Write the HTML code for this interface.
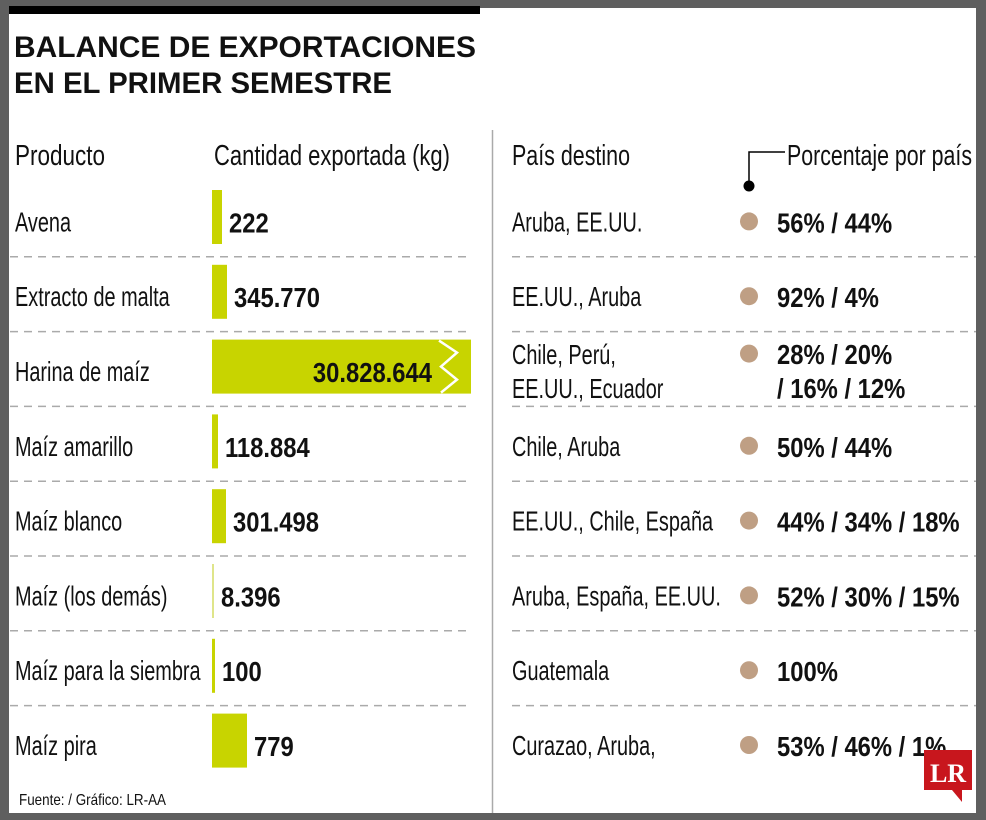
<!DOCTYPE html>
<html><head><meta charset="utf-8">
<style>
html,body{margin:0;padding:0;background:#5f5f5f;}
svg{display:block;}
text{font-family:"Liberation Sans Narrow","Liberation Sans",sans-serif;fill:#111;}
.b{font-weight:bold;}
</style></head>
<body>
<svg id="chart" width="986" height="820" viewBox="0 0 986 820">
  <rect x="0" y="0" width="986" height="820" fill="#5f5f5f"/>
  <rect x="9" y="8" width="967" height="805" fill="#ffffff"/>
  <rect x="9" y="6" width="471" height="8" fill="#000"/>
  <text class="b fit" x="14" y="57" font-size="30" data-w="462" style="font-family:'Liberation Sans',sans-serif">BALANCE DE EXPORTACIONES</text>
  <text class="b fit" x="14" y="93" font-size="30" data-w="378" style="font-family:'Liberation Sans',sans-serif">EN EL PRIMER SEMESTRE</text>
  <line x1="492.5" y1="130" x2="492.5" y2="813" stroke="#aaa" stroke-width="1.5"/>
  <text class="fit" x="15" y="165" font-size="29" data-w="90">Producto</text>
  <text class="fit" x="214" y="165" font-size="29" data-w="236">Cantidad exportada (kg)</text>
  <text class="fit" x="512" y="165" font-size="29" data-w="118">País destino</text>
  <text class="fit" x="787" y="165" font-size="29" data-w="185">Porcentaje por país</text>
  <polyline points="749,186 749,152 785,152" fill="none" stroke="#000" stroke-width="1.5"/>
  <circle cx="749" cy="186" r="5.5" fill="#000"/>
  <g id="rows"></g>
  <text class="fit" x="19" y="805" font-size="16" data-w="147">Fuente:  / Gráfico: LR-AA</text>
  <g>
    <rect x="924" y="750" width="48" height="40" fill="#c8161d"/>
    <polygon points="952,790 962,790 962,802" fill="#c8161d"/>
    <text x="948" y="782" font-size="26" text-anchor="middle" style="font-family:'Liberation Serif',serif;font-weight:bold;fill:#fff">LR</text>
  </g>
</svg>
<script>
const products = ["Avena","Extracto de malta","Harina de maíz","Maíz amarillo","Maíz blanco","Maíz (los demás)","Maíz para la siembra","Maíz pira"];
const valueLabels = ["222","345.770","30.828.644","118.884","301.498","8.396","100","779"];
const barLength = [10,15,259,6,14,2,3,35];
const countries = [["Aruba, EE.UU."],["EE.UU., Aruba"],["Chile, Perú,","EE.UU., Ecuador"],["Chile, Aruba"],["EE.UU., Chile, España"],["Aruba, España, EE.UU."],["Guatemala"],["Curazao, Aruba,"]];
const percents = [["56% / 44%"],["92% / 4%"],["28% / 20%","/ 16% / 12%"],["50% / 44%"],["44% / 34% / 18%"],["52% / 30% / 15%"],["100%"],["53% / 46% / 1%"]];

const NS="http://www.w3.org/2000/svg";
const g=document.getElementById('rows');
const rowTop=183, rowH=74.8, barX=212;
function xs(v){return v*1;}
function mk(tag,attrs,parent){const e=document.createElementNS(NS,tag);for(const k in attrs)e.setAttribute(k,attrs[k]);(parent||g).appendChild(e);return e;}
products.forEach((p,i)=>{
  const top=rowTop+i*rowH, mid=top+rowH/2;
  const t=mk('text',{x:15,y:mid+11,'font-size':28,class:'reg'});
  
  
  t.textContent=p;
  const w=xs(barLength[i]);
  const bar=mk('rect',{x:barX,y:top+7,width:w,height:54,fill:i===5?'#dfe58a':'#c8d400'});
  
  
  let vt;
  if(w>150){
    mk('polyline',{points:`${barX+w-32},${top+8} ${barX+w-14},${top+20} ${barX+w-30},${top+34} ${barX+w-14},${top+47} ${barX+w-30},${top+60}`,fill:'none',stroke:'#fff','stroke-width':2.5});
    vt=mk('text',{x:barX+w-39,y:mid+12,'font-size':28,'text-anchor':'end',class:'b cond'});
  } else {
    vt=mk('text',{x:barX+w+7,y:mid+12,'font-size':28,class:'b cond'});
  }
  
  
  vt.textContent=valueLabels[i];
  const two=countries[i].length>1;
  countries[i].forEach((c,j)=>{
    const ct=mk('text',{x:512,y:(two?mid-6:mid+11)+j*34,'font-size':28,class:'reg'});
    
    
    ct.textContent=c;
  });
  const dot=mk('circle',{cx:749,cy:two?top+21:mid+1,r:9,fill:'#bf9f84'});
  
  
  percents[i].forEach((c,j)=>{
    const pt=mk('text',{x:777,y:(two?mid-6:mid+12)+j*34,'font-size':28,class:'b cond'});
    
    
    pt.textContent=c;
  });
  if(i<products.length-1){
    const y=top+rowH-1;
    const l1=mk('line',{x1:10,y1:y,x2:470,y2:y,stroke:'#aaa','stroke-width':1.5,'stroke-dasharray':'8,6'});
    
    
    const l2=mk('line',{x1:512,y1:y,x2:976,y2:y,stroke:'#aaa','stroke-width':1.5,'stroke-dasharray':'8,6'});
    
    
  }
});
document.querySelectorAll('text.cond').forEach(t=>{
  const L=t.getComputedTextLength();
  t.setAttribute('textLength',(L*0.85).toFixed(1));
  t.setAttribute('lengthAdjust','spacingAndGlyphs');
});
document.querySelectorAll('text.reg').forEach(t=>{
  const L=t.getComputedTextLength();
  t.setAttribute('textLength',(L*0.71).toFixed(1));
  t.setAttribute('lengthAdjust','spacingAndGlyphs');
});
document.querySelectorAll('text.fit').forEach(t=>{
  t.setAttribute('textLength',t.getAttribute('data-w'));
  t.setAttribute('lengthAdjust','spacingAndGlyphs');
});
</script>
</body></html>
